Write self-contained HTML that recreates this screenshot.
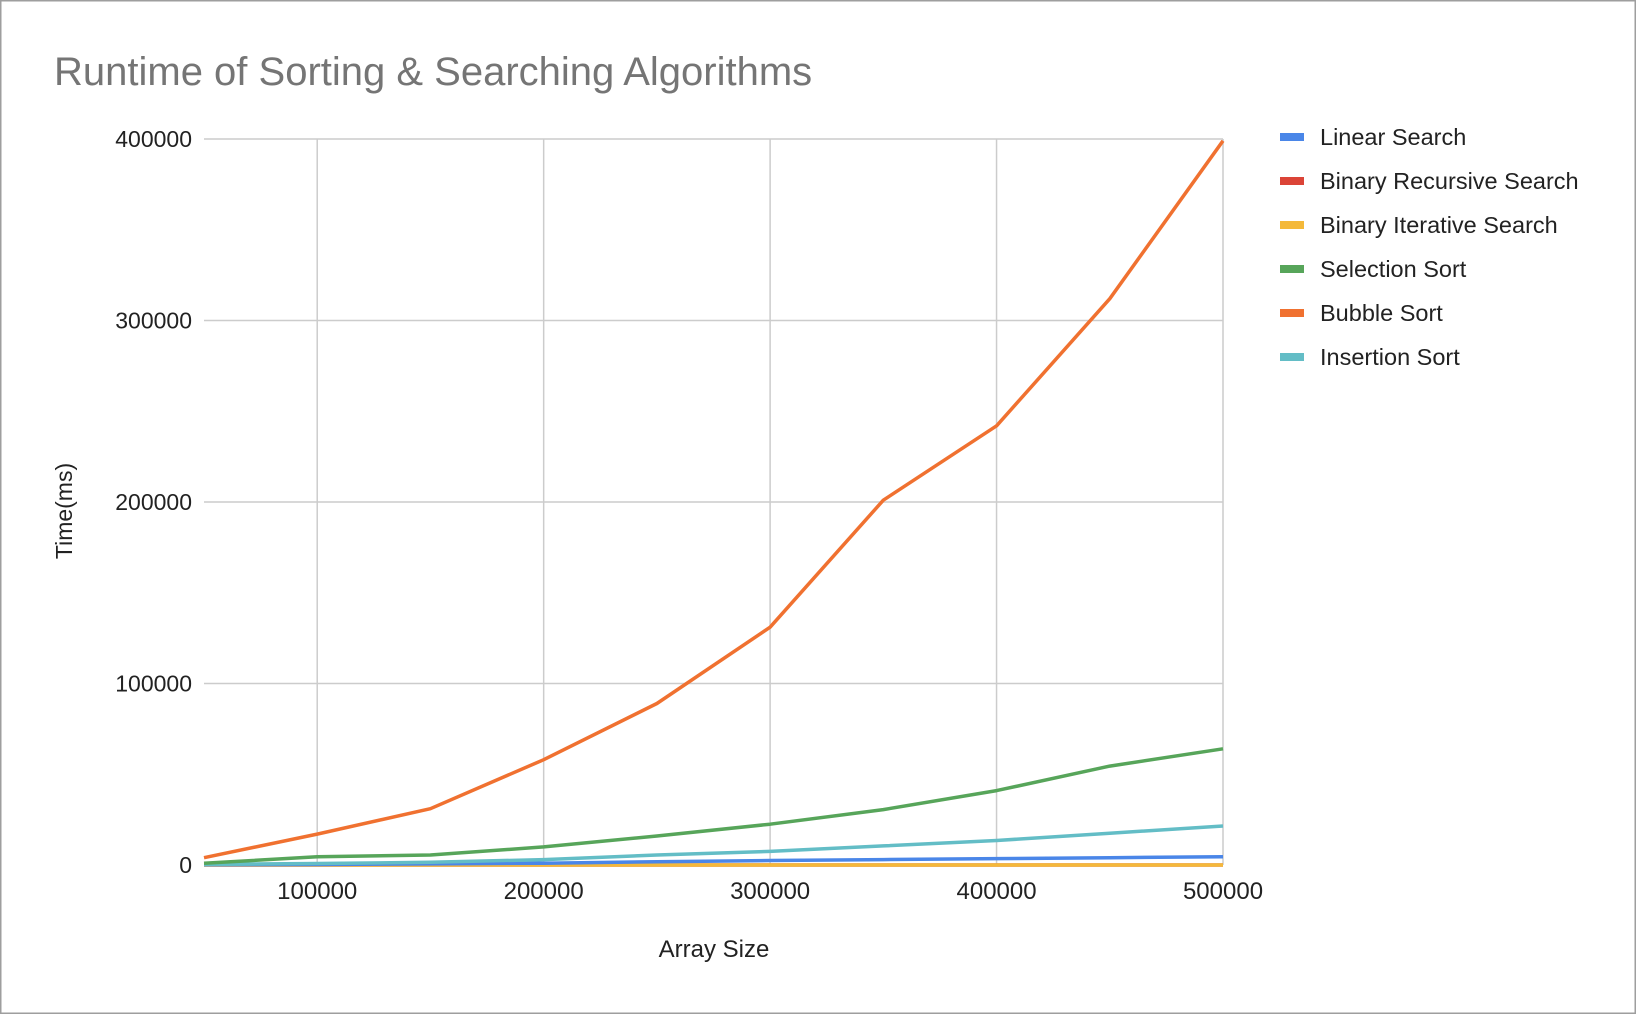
<!DOCTYPE html>
<html><head><meta charset="utf-8"><style>
body{margin:0;background:#fff}
svg{display:block;font-family:"Liberation Sans",Arial,sans-serif}
</style></head><body>
<svg id="chart" width="1636" height="1014" viewBox="0 0 1636 1014">
<rect x="0.5" y="0.5" width="1635" height="1013" fill="#fff" stroke="#9e9e9e" stroke-width="2"/>
<text x="54" y="85" font-size="40" fill="#757575">Runtime of Sorting &amp; Searching Algorithms</text>
<g id="grid"></g>
<g id="series"></g>
<g id="ticks"></g>
<text x="714" y="957" font-size="24" fill="#222" text-anchor="middle">Array Size</text>
<text transform="translate(72,511) rotate(-90)" font-size="23" fill="#222" text-anchor="middle">Time(ms)</text>
<g id="legend"></g>
</svg>
<script>
const xValues=[50000,100000,150000,200000,250000,300000,350000,400000,450000,500000];
const seriesNames=["Linear Search","Binary Recursive Search","Binary Iterative Search","Selection Sort","Bubble Sort","Insertion Sort"];
const seriesColors=["#4a86e8","#db4437","#f4b93a","#57a55a","#f07130","#63bdc6"];
const linearSearch=[100,300,600,1000,1800,2500,3000,3500,4000,4500];
const binaryRecursive=[5,5,6,6,7,7,8,8,9,9];
const binaryIterative=[4,4,5,5,5,6,6,7,7,8];
const selectionSort=[1000,4500,5500,10000,16000,22500,30500,41000,54500,64000];
const bubbleSort=[4000,17000,31000,58000,89000,131000,201000,242000,312000,399000];
const insertionSort=[300,800,1500,3000,5500,7500,10500,13500,17500,21500];
const xTicks=[100000,200000,300000,400000,500000];
const yTicks=[0,100000,200000,300000,400000];

const NS="http://www.w3.org/2000/svg";
const X0=204,X1=1223,Y0=865,Y1=139;
const xs=v=>X0+(v-50000)/(450000)*(X1-X0);
const ys=v=>Y0-v/400000*(Y0-Y1);
function mk(tag,attrs,parent){const e=document.createElementNS(NS,tag);for(const k in attrs)e.setAttribute(k,attrs[k]);parent.appendChild(e);return e;}
const grid=document.getElementById('grid'),ticks=document.getElementById('ticks');
yTicks.forEach(t=>{
  const l=mk('line',{x1:X0,x2:X1,y1:ys(t),y2:ys(t),stroke:'#cccccc','stroke-width':1.5},grid);
  
  
  const tx=mk('text',{x:192,y:ys(t)+8,'font-size':23,fill:'#222','text-anchor':'end'},ticks);
  tx.textContent=t;
  
  
});
xTicks.forEach(t=>{
  const l=mk('line',{x1:xs(t),x2:xs(t),y1:Y1,y2:Y0,stroke:'#cccccc','stroke-width':1.5},grid);
  
  
  const tx=mk('text',{x:xs(t),y:899,'font-size':24,fill:'#222','text-anchor':'middle'},ticks);
  tx.textContent=t;
  
  
});
const data=[linearSearch,binaryRecursive,binaryIterative,selectionSort,bubbleSort,insertionSort];
const order=[1,2,0,5,3,4];
const sg=document.getElementById('series');
order.forEach(i=>{
  const pts=data[i].map((v,j)=>xs(xValues[j]).toFixed(1)+','+ys(v).toFixed(1)).join(' ');
  const p=mk('polyline',{points:pts,fill:'none',stroke:seriesColors[i],'stroke-width':3.5,'stroke-linejoin':'round'},sg);
  
  
});
const lg=document.getElementById('legend');
seriesNames.forEach((n,i)=>{
  const cy=137+i*44;
  const r=mk('rect',{x:1280,y:cy-4,width:24,height:8,fill:seriesColors[i]},lg);
  
  
  const t=mk('text',{x:1320,y:cy+8,'font-size':23.5,fill:'#222'},lg);
  t.textContent=n;
  
  
});
</script>
</body></html>
